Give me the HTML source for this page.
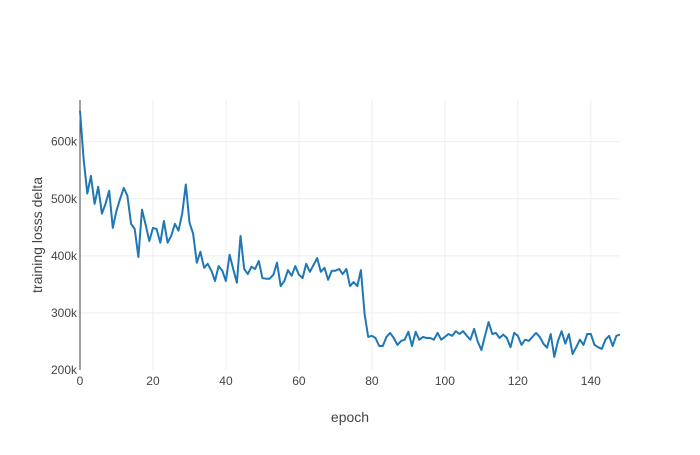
<!DOCTYPE html>
<html><head><meta charset="utf-8"><style>
body{margin:0;background:#fff;font-family:"Liberation Sans",Arial,sans-serif}
</style></head><body>
<svg id="chart" width="700" height="450" xmlns="http://www.w3.org/2000/svg"></svg>
<script>
const epochs = [];
const losses = [654,570,509,540,491,521,474,491,514,449,479,500,519,505,456,447,398,481,454,426,449,447,423,461,423,435,456,444,474,525,458,439,388,407,379,386,374,356,382,374,356,402,377,353,435,377,368,381,377,391,361,360,360,367,388,347,356,375,365,382,367,361,386,372,384,396,372,379,358,374,374,377,368,377,347,354,347,375,298,258,260,256,242,242,258,265,256,244,251,253,267,242,267,253,258,256,256,253,265,253,258,263,260,268,263,268,260,253,272,250,235,260,284,263,265,256,262,256,240,265,260,244,253,251,258,265,258,246,239,263,223,251,268,246,263,228,240,253,244,263,263,244,240,237,253,260,242,260,262];
for(let i=0;i<losses.length;i++) epochs.push(i);
const xTicks=[0,20,40,60,80,100,120,140];
const yTicks=[200,300,400,500,600];
const yTickLabels=["200k","300k","400k","500k","600k"];
const L=80,R=620,T=100,B=370, xMin=0,xMax=148,yMin=200,yMax=673;
const X=v=>L+(v-xMin)/(xMax-xMin)*(R-L);
const Y=v=>B-(v-yMin)/(yMax-yMin)*(B-T);
const svg=document.getElementById('chart');
const NS="http://www.w3.org/2000/svg";
function mk(t,a,txt){const e=document.createElementNS(NS,t);for(const k in a)e.setAttribute(k,a[k]);if(txt!=null)e.textContent=txt;svg.appendChild(e);return e;}
xTicks.forEach(t=>{
  if(t>0){const g=mk('line',{x1:X(t),x2:X(t),y1:T,y2:B,stroke:'#eee','stroke-width':1});
  
  }
  const l=mk('text',{x:X(t),y:B+15,'text-anchor':'middle','font-size':12,fill:'#444'},String(t));
  
  
});
yTicks.forEach((t,i)=>{
  if(t>yMin){const g=mk('line',{x1:L,x2:R,y1:Y(t),y2:Y(t),stroke:'#eee','stroke-width':1});
  
  }
  const l=mk('text',{x:L-3,y:Y(t)+4,'text-anchor':'end','font-size':12,fill:'#444'},yTickLabels[i]);
  
  
});
const z=mk('line',{x1:L,x2:L,y1:T,y2:B,stroke:'#444','stroke-width':1});


const d=losses.map((v,i)=>(i?'L':'M')+X(epochs[i]).toFixed(1)+','+Y(v).toFixed(1)).join('');
const p=mk('path',{d:d,fill:'none',stroke:'#1f77b4','stroke-width':2,'stroke-linejoin':'round'});


const xt=mk('text',{x:350,y:422,'text-anchor':'middle','font-size':14,fill:'#444'},'epoch');


const yt=mk('text',{x:0,y:0,'text-anchor':'middle','font-size':14,fill:'#444',transform:'translate(42,235) rotate(-90)'},'training losss delta');


</script>
</body></html>
